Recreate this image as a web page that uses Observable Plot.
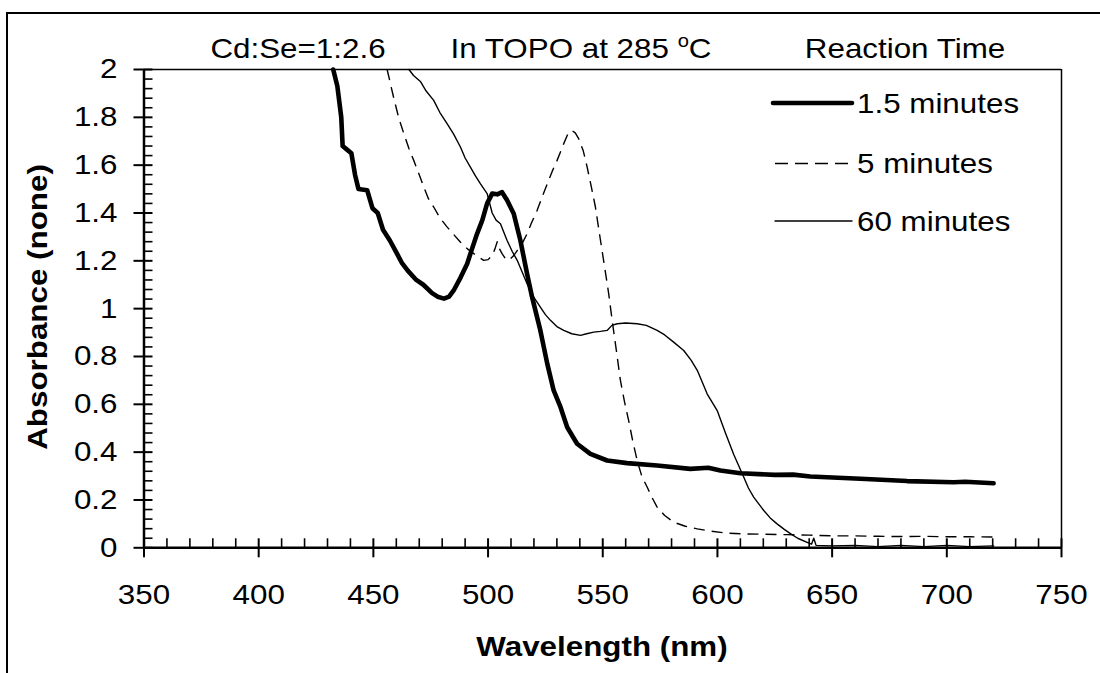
<!DOCTYPE html>
<html>
<head>
<meta charset="utf-8">
<script src="https://cdn.jsdelivr.net/npm/d3@7"></script>
<script src="https://cdn.jsdelivr.net/npm/@observablehq/plot@0.6"></script>
<style>
  html, body { margin: 0; padding: 0; background: #fff; }
  svg { display: block; }
</style>
</head>
<body>
<div id="chart"></div>
<script>
// ---- data (wavelength nm, absorbance) ----
const seriesNames = ["1.5 minutes", "5 minutes", "60 minutes"];

const curve15 = [
  [432.5, 2.0], [434.3, 1.93], [436.0, 1.80], [436.6, 1.68], [438.5, 1.665], [440.4, 1.65],
  [442.0, 1.56], [443.5, 1.50], [447.3, 1.495], [449.6, 1.42], [451.9, 1.40], [454.2, 1.33],
  [457.2, 1.285], [460.3, 1.23], [462.5, 1.19], [464.9, 1.16], [468.7, 1.12], [471.8, 1.10],
  [475.6, 1.065], [478.0, 1.05], [480.8, 1.042], [483.0, 1.05], [485.0, 1.076], [488.0, 1.13],
  [490.9, 1.188], [493.0, 1.25], [495.2, 1.313], [497.5, 1.37], [499.6, 1.44], [501.8, 1.481],
  [504.0, 1.478], [506.1, 1.487], [508.3, 1.453], [511.2, 1.397], [514.1, 1.285], [517.0, 1.146],
  [519.2, 1.048], [522.8, 0.909], [525.8, 0.770], [528.6, 0.658], [531.6, 0.588], [534.5, 0.504],
  [538.8, 0.435], [544.6, 0.393], [551.9, 0.365], [560.6, 0.354], [573.7, 0.344], [588.2, 0.330],
  [596.0, 0.335], [601.3, 0.323], [610.0, 0.312], [625.0, 0.305], [633.0, 0.306], [640.5, 0.298],
  [662.3, 0.289], [682.7, 0.279], [703.0, 0.274], [708.0, 0.276], [720.4, 0.270]
];

const curve5 = [
  [456.0, 2.0], [458.9, 1.88], [461.0, 1.80], [463.3, 1.731], [465.5, 1.67], [467.6, 1.62],
  [470.0, 1.56], [472.0, 1.508], [474.0, 1.46], [476.3, 1.425], [479.0, 1.38], [482.2, 1.341],
  [485.0, 1.31], [488.0, 1.278], [491.0, 1.25], [493.8, 1.23], [496.0, 1.215], [498.1, 1.202],
  [500.0, 1.205], [501.8, 1.222], [503.0, 1.25], [504.0, 1.28], [505.0, 1.25], [506.1, 1.23],
  [507.5, 1.21], [509.0, 1.202], [511.0, 1.22], [512.7, 1.243], [515.0, 1.275], [517.0, 1.313],
  [519.0, 1.36], [521.4, 1.411], [523.5, 1.465], [525.8, 1.522], [528.0, 1.575], [530.1, 1.620],
  [533.0, 1.690], [535.0, 1.735], [536.5, 1.745], [538.0, 1.735], [539.5, 1.711], [541.5, 1.66],
  [543.2, 1.592], [545.0, 1.51], [546.8, 1.425], [548.3, 1.33], [549.7, 1.243], [551.2, 1.15],
  [552.6, 1.062], [554.1, 0.951], [556.0, 0.82], [557.7, 0.700], [559.5, 0.61], [561.3, 0.532],
  [563.0, 0.45], [565.0, 0.365], [567.0, 0.30], [569.4, 0.253], [571.5, 0.21], [573.7, 0.170],
  [577.0, 0.135], [580.9, 0.107], [586.0, 0.09], [591.2, 0.079], [597.0, 0.07], [604.2, 0.061],
  [612.0, 0.058], [620.0, 0.057], [630.0, 0.055], [640.0, 0.053], [650.0, 0.050], [660.0, 0.050],
  [670.0, 0.048], [680.0, 0.047], [690.0, 0.048], [700.0, 0.046], [710.0, 0.046], [720.4, 0.045]
];

const curve60 = [
  [465.5, 2.0], [467.5, 1.975], [470.5, 1.95], [473.0, 1.91], [476.3, 1.871], [479.0, 1.82],
  [482.2, 1.773], [485.0, 1.73], [488.0, 1.675], [490.0, 1.63], [492.3, 1.592], [494.5, 1.555],
  [496.7, 1.522], [499.6, 1.481], [501.8, 1.40], [503.5, 1.37], [505.4, 1.355], [508.3, 1.285],
  [510.5, 1.24], [512.7, 1.202], [515.0, 1.15], [517.0, 1.104], [519.9, 1.048], [522.8, 1.006],
  [525.0, 0.975], [527.2, 0.951], [530.0, 0.925], [533.0, 0.909], [536.5, 0.895], [540.3, 0.888],
  [543.0, 0.895], [546.1, 0.902], [549.0, 0.905], [551.9, 0.909], [554.0, 0.93], [556.3, 0.937],
  [560.0, 0.94], [565.0, 0.937], [569.0, 0.93], [573.7, 0.909], [577.0, 0.89], [580.9, 0.860],
  [585.3, 0.825], [588.5, 0.785], [591.2, 0.742], [593.5, 0.69], [595.5, 0.644], [599.9, 0.574],
  [603.5, 0.48], [607.1, 0.39], [611.5, 0.295], [613.5, 0.25], [615.8, 0.212], [620.2, 0.156],
  [623.0, 0.125], [626.0, 0.100], [629.0, 0.078], [631.8, 0.059], [635.0, 0.040], [639.1, 0.023],
  [641.0, 0.015], [642.0, 0.040], [643.0, 0.010], [650.0, 0.008], [660.0, 0.010], [670.0, 0.005],
  [680.0, 0.010], [690.0, 0.005], [700.0, 0.010], [710.0, 0.005], [720.4, 0.008]
];

// ---- ticks ----
const xMajor = [350, 400, 450, 500, 550, 600, 650, 700, 750];
const xMinor = [360, 370, 380, 390, 410, 420, 430, 440, 460, 470, 480, 490, 510, 520, 530, 540,
                560, 570, 580, 590, 610, 620, 630, 640, 660, 670, 680, 690, 710, 720, 730, 740];
const yMajor = [0, 0.2, 0.4, 0.6, 0.8, 1, 1.2, 1.4, 1.6, 1.8, 2];
const yMinor = [0.04, 0.08, 0.12, 0.16, 0.24, 0.28, 0.32, 0.36, 0.44, 0.48, 0.52, 0.56,
                0.64, 0.68, 0.72, 0.76, 0.84, 0.88, 0.92, 0.96, 1.04, 1.08, 1.12, 1.16,
                1.24, 1.28, 1.32, 1.36, 1.44, 1.48, 1.52, 1.56, 1.64, 1.68, 1.72, 1.76,
                1.84, 1.88, 1.92, 1.96];

// ---- texts ----
const titleLeft = "Cd:Se=1:2.6";
const titleMid = ["In TOPO at 285 ", "o", "C"];
const titleRight = "Reaction Time";
const xTitle = "Wavelength (nm)";
const yTitle = "Absorbance (none)";

const FONT = 28, SX = 1.12;
const fmt = d => String(+d.toFixed(2));
const X = d => d[0], Y = d => d[1];

const svg = Plot.plot({
  width: 1100,
  height: 673,
  marginLeft: 143.5,
  marginRight: 39,
  marginTop: 69,
  marginBottom: 125.7,
  x: {domain: [350, 750], label: null},
  y: {domain: [0, 2], label: null},
  style: {
    fontFamily: "'Liberation Sans', Arial, sans-serif",
    fontSize: FONT + "px",
    color: "black",
    background: "white",
    overflow: "visible"
  },
  marks: [
    // plot frame (top, right)
    Plot.ruleY([2], {stroke: "black", strokeWidth: 1.5}),
    Plot.ruleX([750], {stroke: "black", strokeWidth: 1.5}),
    // y ticks
    Plot.axisY(yMinor, {anchor: "left", tickSize: 9, dx: 9, strokeWidth: 1.6, tickFormat: () => "", label: null}),
    Plot.axisY(yMajor, {anchor: "left", tickSize: 19, dx: 9, strokeWidth: 2, tickFormat: () => "", label: null}),
    Plot.axisY(yMajor, {anchor: "left", tickSize: 0, tickPadding: 26.5, tickFormat: fmt, label: null}),
    // x ticks
    Plot.axisX(xMinor, {anchor: "bottom", tickSize: 9, dy: -9, strokeWidth: 1.6, tickFormat: () => "", label: null}),
    Plot.axisX(xMajor, {anchor: "bottom", tickSize: 19, dy: -9, strokeWidth: 2, tickFormat: () => "", label: null}),
    Plot.axisX(xMajor, {anchor: "bottom", tickSize: 0, tickPadding: 36, tickFormat: fmt, label: null}),
    // axis lines
    Plot.ruleX([350], {stroke: "black", strokeWidth: 2.5}),
    Plot.ruleY([0], {stroke: "black", strokeWidth: 2.5}),
    // curves
    Plot.line(curve60, {x: X, y: Y, stroke: "black", strokeWidth: 1.4}),
    Plot.line(curve5, {x: X, y: Y, stroke: "black", strokeWidth: 1.4, strokeDasharray: "11,7", strokeLinecap: "butt"}),
    Plot.line(curve15, {x: X, y: Y, stroke: "black", strokeWidth: 4.6})
  ]
});

const s = d3.select(svg);

// outer border
s.append("path").attr("d", "M7,673V13H1100").attr("fill", "none")
  .attr("stroke", "black").attr("stroke-width", 2);

// titles
s.append("text").attr("transform", "translate(298,58)").attr("text-anchor", "middle")
  .attr("fill", "black").text(titleLeft);
const tm = s.append("text").attr("transform", "translate(581,58)").attr("text-anchor", "middle").attr("fill", "black");
tm.append("tspan").text(titleMid[0]);
tm.append("tspan").attr("font-size", 18).attr("dy", -11).text(titleMid[1]);
tm.append("tspan").attr("dy", 11).text(titleMid[2]);
s.append("text").attr("transform", "translate(905,58)").attr("text-anchor", "middle")
  .attr("fill", "black").text(titleRight);

// axis titles
s.append("text").attr("transform", "translate(602,656)").attr("text-anchor", "middle")
  .attr("font-weight", "bold").attr("fill", "black").text(xTitle);
s.append("text").attr("transform", "translate(47,307) rotate(-90)").attr("text-anchor", "middle")
  .attr("font-weight", "bold").attr("fill", "black").text(yTitle);

// legend
const legendRows = [
  {name: seriesNames[0], y: 103, width: 4.6, dash: null, x1: 773, x2: 852},
  {name: seriesNames[1], y: 163.5, width: 1.4, dash: "13,7", x1: 775, x2: 848},
  {name: seriesNames[2], y: 221, width: 1.4, dash: null, x1: 775, x2: 852}
];
legendRows.forEach(r => {
  const ln = s.append("line").attr("x1", r.x1).attr("x2", r.x2).attr("y1", r.y).attr("y2", r.y)
    .attr("stroke", "black").attr("stroke-width", r.width)
    .attr("stroke-linecap", r.dash ? "butt" : "round");
  if (r.dash) ln.attr("stroke-dasharray", r.dash);
  s.append("text").attr("transform", `translate(857,${r.y + 9.5})`)
    .attr("text-anchor", "start").attr("fill", "black").text(r.name);
});

// stretch all texts horizontally along their baseline (matches the wider glyphs of the original)
svg.querySelectorAll("text").forEach(t => {
  const x = parseFloat(t.getAttribute("x")) || 0;
  const prev = t.getAttribute("transform") || "";
  t.setAttribute("transform", `${prev} translate(${x},0) scale(${SX},1) translate(${-x},0)`);
});

document.getElementById("chart").appendChild(svg);
</script>
</body>
</html>
